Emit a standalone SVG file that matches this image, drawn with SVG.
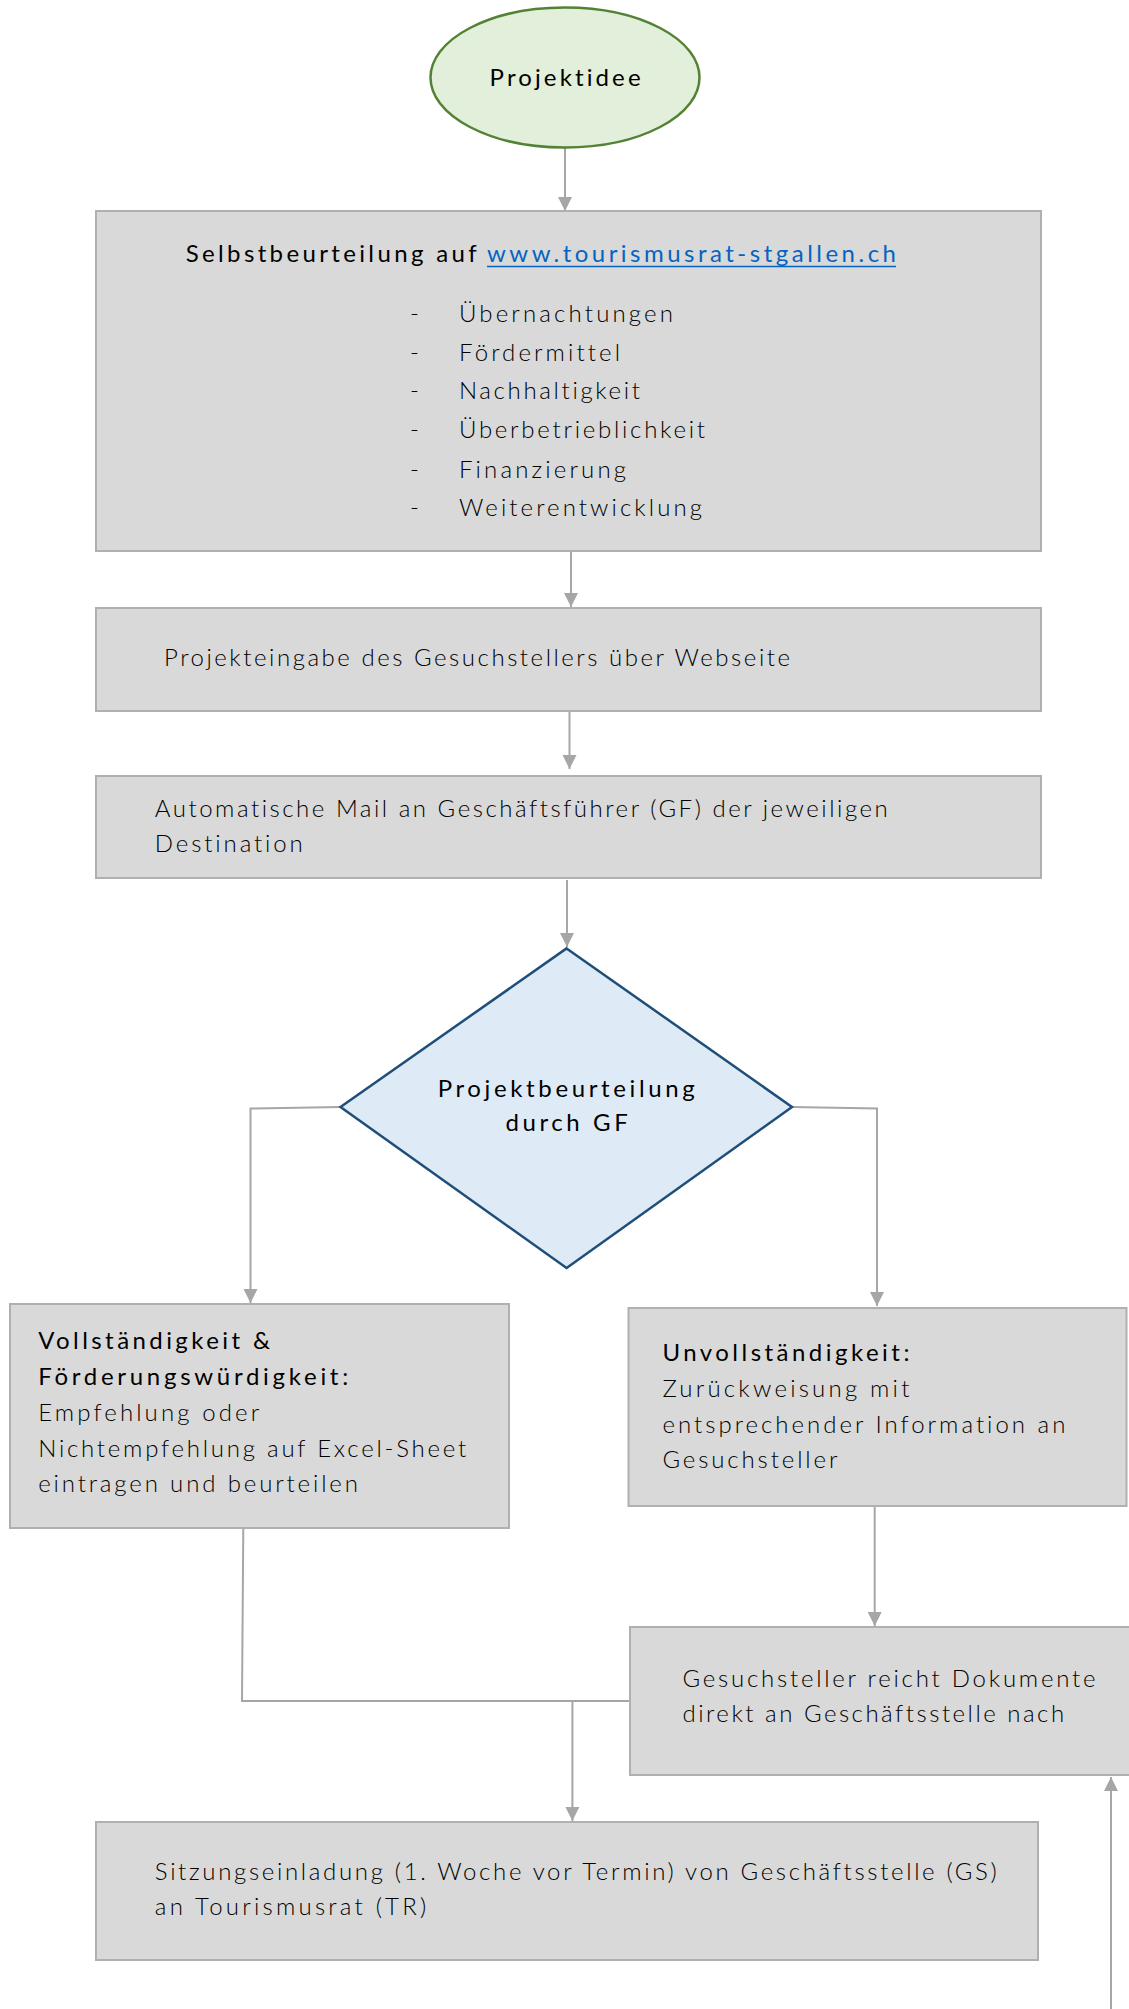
<svg xmlns="http://www.w3.org/2000/svg" width="1129" height="2009" viewBox="0 0 1129 2009">
<defs>
<style>
.box{fill:#D9D9D9;stroke:#B0B0B0;stroke-width:2}
.t,.h{font-family:Lato,"Liberation Sans",sans-serif;font-size:24px;font-variant-ligatures:none;font-feature-settings:"liga" 0,"clig" 0}
.t{font-weight:300;fill:#000}
.h{font-weight:400;fill:#000}
.link{fill:#0563C1}
.c{fill:none;stroke:#A6A6A6;stroke-width:2}
</style>
<marker id="ah" markerUnits="userSpaceOnUse" markerWidth="14" markerHeight="16" viewBox="0 0 14 16" refX="14" refY="8" orient="auto">
<path d="M0,1 L14,8 L0,15 Z" fill="#A6A6A6"/>
</marker>
</defs>
<rect width="1129" height="2009" fill="#fff"/>
<g id="connectors">
<path class="c" d="M565,147 V211" marker-end="url(#ah)"/>
<path class="c" d="M571,551 V607" marker-end="url(#ah)"/>
<path class="c" d="M569.5,712 V769" marker-end="url(#ah)"/>
<path class="c" d="M567,880 V947" marker-end="url(#ah)"/>
<path class="c" d="M340.5,1107 L250.5,1108.5 V1303" marker-end="url(#ah)"/>
<path class="c" d="M792,1107 L877,1108.5 V1306" marker-end="url(#ah)"/>
<path class="c" d="M874.7,1506 V1626" marker-end="url(#ah)"/>
<path class="c" d="M243.3,1527 L242,1701 H630"/>
<path class="c" d="M572.4,1701 V1821" marker-end="url(#ah)"/>
<path class="c" d="M1111,2009 V1777" marker-end="url(#ah)"/>
</g>
<g id="projektidee">
<ellipse cx="565" cy="77.5" rx="134.5" ry="70" fill="#E2EFDA" stroke="#548235" stroke-width="2.5"/>
<text class="h" x="489.6" y="86" textLength="151" lengthAdjust="spacing">Projektidee</text>
</g>
<g id="selbstbeurteilung">
<rect class="box" x="96" y="211" width="945" height="340"/>
<text class="h" x="185.7" y="262" textLength="291" lengthAdjust="spacing">Selbstbeurteilung auf</text>
<text class="h link" x="487" y="262" textLength="409" lengthAdjust="spacing">www.tourismusrat-stgallen.ch</text>
<line x1="487" y1="266.5" x2="896" y2="266.5" stroke="#0563C1" stroke-width="1.5"/>
<text class="t" x="410" y="321.5">-</text>
<text class="t" x="459" y="321.5" textLength="214" lengthAdjust="spacing">Übernachtungen</text>
<text class="t" x="410" y="360.7">-</text>
<text class="t" x="459" y="360.7" textLength="161" lengthAdjust="spacing">Fördermittel</text>
<text class="t" x="410" y="399.3">-</text>
<text class="t" x="459" y="399.3" textLength="181" lengthAdjust="spacing">Nachhaltigkeit</text>
<text class="t" x="410" y="437.5">-</text>
<text class="t" x="459" y="437.5" textLength="246" lengthAdjust="spacing">Überbetrieblichkeit</text>
<text class="t" x="410" y="477.5">-</text>
<text class="t" x="459" y="477.5" textLength="167" lengthAdjust="spacing">Finanzierung</text>
<text class="t" x="410" y="516">-</text>
<text class="t" x="459" y="516" textLength="243" lengthAdjust="spacing">Weiterentwicklung</text>
</g>
<g id="projekteingabe">
<rect class="box" x="96" y="608" width="945" height="103"/>
<text class="t" x="164" y="666" textLength="626" lengthAdjust="spacing">Projekteingabe des Gesuchstellers über Webseite</text>
</g>
<g id="automatische-mail">
<rect class="box" x="96" y="776" width="945" height="102"/>
<text class="t" x="154.8" y="817" textLength="733" lengthAdjust="spacing">Automatische Mail an Geschäftsführer (GF) der jeweiligen</text>
<text class="t" x="154.8" y="852" textLength="148" lengthAdjust="spacing">Destination</text>
</g>
<g id="projektbeurteilung">
<polygon points="566.6,948.4 792,1107 566.6,1268 340.5,1107" fill="#DEEBF7" stroke="#1F4E79" stroke-width="2.5"/>
<text class="h" x="437.7" y="1097" textLength="257" lengthAdjust="spacing">Projektbeurteilung</text>
<text class="h" x="505.4" y="1131" textLength="122.4" lengthAdjust="spacing">durch GF</text>
</g>
<g id="vollstaendigkeit">
<rect class="box" x="10" y="1304" width="499" height="224"/>
<text class="h" x="38.2" y="1349" textLength="232" lengthAdjust="spacing">Vollständigkeit &amp;</text>
<text class="h" x="38.2" y="1384.5" textLength="310" lengthAdjust="spacing">Förderungswürdigkeit:</text>
<text class="t" x="38.2" y="1420.5" textLength="221" lengthAdjust="spacing">Empfehlung oder</text>
<text class="t" x="38.2" y="1456.5" textLength="428" lengthAdjust="spacing">Nichtempfehlung auf Excel-Sheet</text>
<text class="t" x="38.2" y="1492" textLength="319.7" lengthAdjust="spacing">eintragen und beurteilen</text>
</g>
<g id="unvollstaendigkeit">
<rect class="box" x="628.5" y="1308" width="498" height="198"/>
<text class="h" x="662.4" y="1361" textLength="247" lengthAdjust="spacing">Unvollständigkeit:</text>
<text class="t" x="662.4" y="1397.3" textLength="247" lengthAdjust="spacing">Zurückweisung mit</text>
<text class="t" x="662.4" y="1433" textLength="403" lengthAdjust="spacing">entsprechender Information an</text>
<text class="t" x="662.4" y="1468" textLength="175" lengthAdjust="spacing">Gesuchsteller</text>
</g>
<g id="dokumente-nachreichen">
<rect class="box" x="630" y="1627" width="510" height="148"/>
<text class="t" x="682.5" y="1687" textLength="413" lengthAdjust="spacing">Gesuchsteller reicht Dokumente</text>
<text class="t" x="682.5" y="1722" textLength="381.6" lengthAdjust="spacing">direkt an Geschäftsstelle nach</text>
</g>
<g id="sitzungseinladung">
<rect class="box" x="96" y="1822" width="942" height="138"/>
<text class="t" x="154.8" y="1880" textLength="842" lengthAdjust="spacing">Sitzungseinladung (1. Woche vor Termin) von Geschäftsstelle (GS)</text>
<text class="t" x="154.8" y="1915" textLength="271.4" lengthAdjust="spacing">an Tourismusrat (TR)</text>
</g>
</svg>
